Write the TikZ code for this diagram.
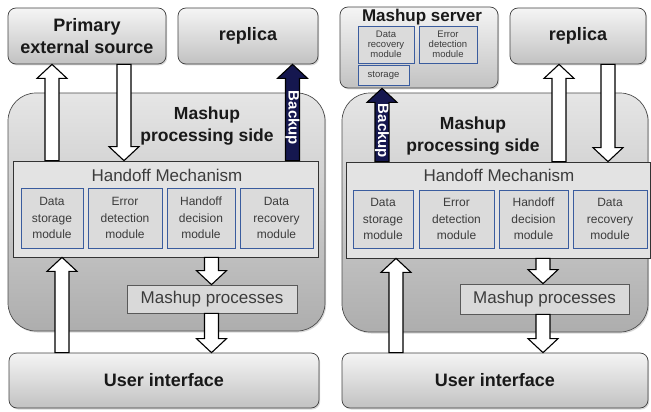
\documentclass[tikz,border=0pt]{standalone}
\usepackage{fontspec}
\setmainfont{Liberation Sans}
\usetikzlibrary{calc,shadows}
\definecolor{navy}{HTML}{15174F}
\definecolor{modblue}{HTML}{3A5C9E}
\definecolor{txtgray}{HTML}{3C3C3C}
\tikzset{
  shade/.style={drop shadow={shadow xshift=1.2pt, shadow yshift=-1.5pt, opacity=0.3}},
  box/.style={draw=black!75, line width=0.7pt, rounded corners=8pt,
    top color=black!4, bottom color=black!24, shade, inner sep=0pt,
    align=center, text=black!90, font=\fontsize{18}{22}\selectfont\bfseries},
  side/.style={draw=black!70, line width=0.7pt, rounded corners=28pt,
    top color=black!10, bottom color=black!32, shade, inner sep=0pt},
  mech/.style={draw=black!80, line width=0.7pt, fill=black!11, inner sep=0pt},
  module/.style={draw=modblue, line width=0.7pt, fill=black!14, inner sep=0pt,
    align=center, text=txtgray, font=\fontsize{12}{16.5}\selectfont},
  smallmod/.style={module, font=\fontsize{9.5}{10}\selectfont},
  procbox/.style={draw=black!65, line width=0.7pt, fill=black!15, inner sep=0pt,
    text=txtgray, font=\fontsize{17}{20}\selectfont},
  sidelbl/.style={inner sep=0pt, align=center, text=black!90,
    font=\fontsize{17.5}{22}\selectfont\bfseries},
  mechlbl/.style={inner sep=0pt, text=txtgray, font=\fontsize{17}{20}\selectfont},
  backlbl/.style={inner sep=0pt, rotate=-90, text=white,
    font=\fontsize{15}{15}\selectfont\bfseries},
  fatline/.style={line width=1.1pt, draw=black, line join=miter},
}
% hollow block arrows: #1 fill, #2 tail point, #3 tip point
\newcommand\blockup[3]{\draw[fatline, fill=#1] let \p1=(#2), \p2=(#3) in
  (\x2,\y2) -- (\x2+15pt,\y2-14pt) -- (\x2+7pt,\y2-14pt) -- (\x2+7pt,\y1)
  -- (\x2-7pt,\y1) -- (\x2-7pt,\y2-14pt) -- (\x2-15pt,\y2-14pt) -- cycle;}
\newcommand\blockdown[3]{\draw[fatline, fill=#1] let \p1=(#2), \p2=(#3) in
  (\x2,\y2) -- (\x2+15pt,\y2+14pt) -- (\x2+7pt,\y2+14pt) -- (\x2+7pt,\y1)
  -- (\x2-7pt,\y1) -- (\x2-7pt,\y2+14pt) -- (\x2-15pt,\y2+14pt) -- cycle;}
\begin{document}
\begin{tikzpicture}[x=1pt, y=-1pt]
\useasboundingbox (0,0) rectangle (651,412);

% ---------- left configuration ----------
\node[side, minimum width=317pt, minimum height=238pt] (ml) at (166.5,212) {};
\node[sidelbl] (tl) at (207,126) {Mashup\\processing side};
\node[mech, minimum width=305pt, minimum height=96pt] (hl) at (165.5,209) {};
\node[mechlbl] (hml) at (167,175) {Handoff Mechanism};
\node[module, minimum width=62pt, minimum height=60pt] (ds1) at (52,218) {Data\\storage\\module};
\node[module, minimum width=74pt, minimum height=60pt] (ed1) at (125,218) {Error\\detection\\module};
\node[module, minimum width=68pt, minimum height=60pt] (hd1) at (201,218) {Handoff\\decision\\module};
\node[module, minimum width=73pt, minimum height=60pt] (dr1) at (276.5,218) {Data\\recovery\\module};
\node[procbox, minimum width=170pt, minimum height=28pt] (mp1) at (212,299) {Mashup processes};
\node[box, minimum width=158pt, minimum height=56pt] (pe) at (87,36) {Primary\\external source};
\node[box, minimum width=140pt, minimum height=56pt] (rl) at (248,36) {replica};
\node[box, minimum width=310pt, minimum height=55pt] (ui1) at (164,380.5) {User interface};

\coordinate (xa) at (52,0);
\coordinate (xb) at (124,0);
\coordinate (xc) at (292.5,0);
\coordinate (xd) at (62,0);
\coordinate (xe) at (211.5,0);
\blockup{white}{hl.north -| xa}{pe.south -| xa}
\blockdown{white}{pe.south -| xb}{hl.north -| xb}
\blockup{navy}{hl.north -| xc}{rl.south -| xc}
\node[backlbl] (bk1) at (292.5,118) {Backup};
\blockup{white}{ui1.north -| xd}{hl.south -| xd}
\blockdown{white}{hl.south -| xe}{mp1.north -| xe}
\blockdown{white}{mp1.south -| xe}{ui1.north -| xe}

% ---------- right configuration ----------
\node[side, minimum width=306pt, minimum height=239pt] (mr) at (495,212.5) {};
\node[sidelbl] (tr) at (473,136) {Mashup\\processing side};
\node[mech, minimum width=304pt, minimum height=96pt] (hr) at (498,210) {};
\node[mechlbl] (hmr) at (499,175) {Handoff Mechanism};
\node[module, minimum width=60pt, minimum height=58pt] (ds2) at (383,219) {Data\\storage\\module};
\node[module, minimum width=75pt, minimum height=58pt] (ed2) at (456.5,219) {Error\\detection\\module};
\node[module, minimum width=69pt, minimum height=58pt] (hd2) at (533.5,219) {Handoff\\decision\\module};
\node[module, minimum width=74pt, minimum height=58pt] (dr2) at (610,219) {Data\\recovery\\module};
\node[procbox, minimum width=169pt, minimum height=30pt] (mp2) at (544.5,299) {Mashup processes};
\node[box, minimum width=158pt, minimum height=81pt] (ms) at (419,47.5) {};
\node[inner sep=0pt, text=black!90, font=\fontsize{17}{20}\selectfont\bfseries] (mst) at (422,17) {Mashup server};
\node[smallmod, minimum width=56pt, minimum height=37pt] (drs) at (386,44.5) {Data\\recovery\\module};
\node[smallmod, minimum width=58pt, minimum height=37pt] (eds) at (448,44.5) {Error\\detection\\module};
\node[smallmod, minimum width=51pt, minimum height=20pt] (sts) at (383.5,75) {storage};
\node[box, minimum width=136pt, minimum height=56pt] (rr) at (578,36) {replica};
\node[box, minimum width=306pt, minimum height=55pt] (ui2) at (495,380.5) {User interface};

\coordinate (xf) at (382,0);
\coordinate (xg) at (559,0);
\coordinate (xh) at (608,0);
\coordinate (xi) at (396,0);
\coordinate (xj) at (543,0);
\blockup{navy}{hr.north -| xf}{ms.south -| xf}
\node[backlbl] (bk2) at (382,131) {Backup};
\blockup{white}{hr.north -| xg}{rr.south -| xg}
\blockdown{white}{rr.south -| xh}{hr.north -| xh}
\blockup{white}{ui2.north -| xi}{hr.south -| xi}
\blockdown{white}{hr.south -| xj}{mp2.north -| xj}
\blockdown{white}{mp2.south -| xj}{ui2.north -| xj}
\end{tikzpicture}
\end{document}
